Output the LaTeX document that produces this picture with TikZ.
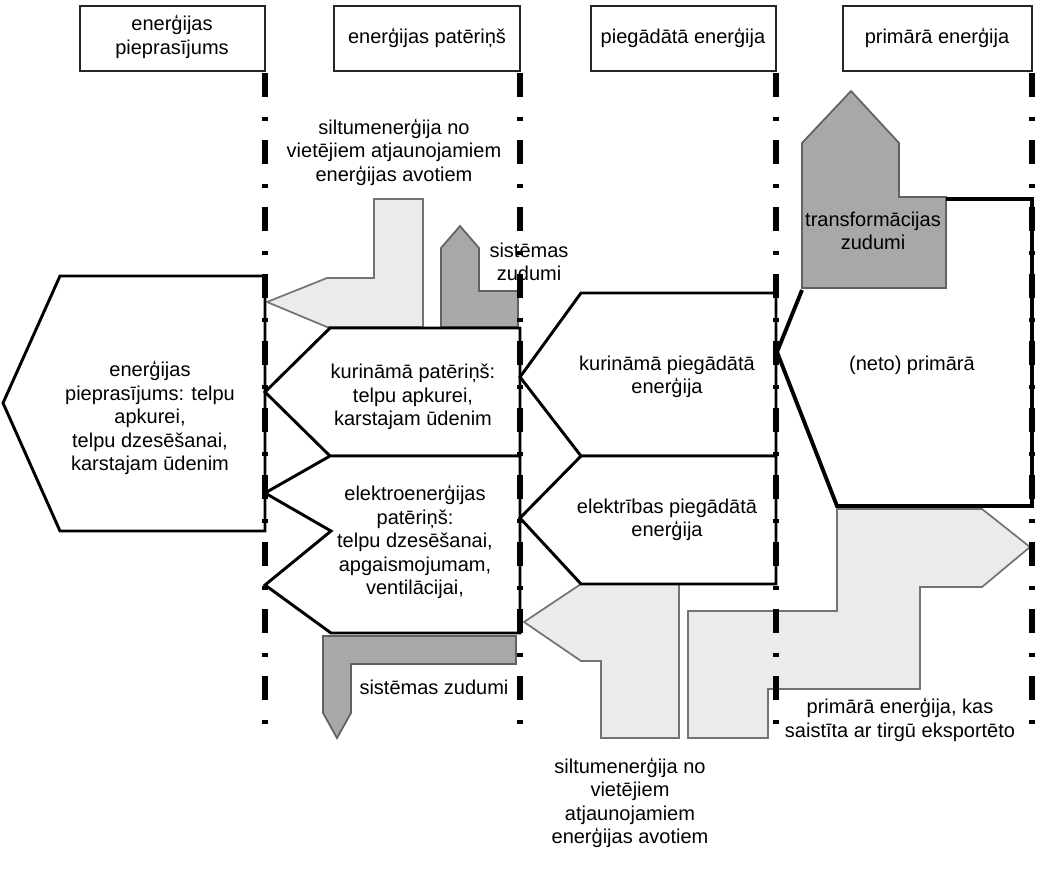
\documentclass[tikz,border=0pt]{standalone}
\usepackage{fontspec}
\setmainfont{Liberation Sans}
\begin{document}
\begin{tikzpicture}[x=0.75pt,y=-0.75pt,
  blk/.style={draw=black, line width=2.2pt, line join=miter, fill=white},
  blkline/.style={draw=black, line width=2.9pt, line join=miter},
  lgt/.style={draw=black!55, line width=1.3pt, fill=black!8},
  drk/.style={draw=black!62, line width=1.3pt, fill=black!34},
  hdr/.style={draw=black!85, line width=1.1pt},
  lbl/.style={font=\fontsize{15}{17.6}\selectfont, align=center, inner sep=0pt},
  sep/.style={line width=4pt, dash pattern=on 18pt off 15pt on 3pt off 14.25pt}]
\useasboundingbox (0,0) rectangle (1060,876);

% header boxes
\draw[hdr] (80,6) rectangle (265,71);
\draw[hdr] (334,6) rectangle (520,71);
\draw[hdr] (591,6) rectangle (776,71);
\draw[hdr] (843,6) rectangle (1032,71);
\node[lbl] (h1) at (172,37) {enerģijas\\pieprasījums};
\node[lbl] (h2) at (427,38) {enerģijas patēriņš};
\node[lbl] (h3) at (683,38) {piegādātā enerģija};
\node[lbl] (h4) at (937,38) {primārā enerģija};

% gray flows
\draw[lgt] (267,302) -- (327,278) -- (374,278) -- (374,199) -- (423,199) -- (423,327) -- (327,327) -- cycle;
\draw[drk] (441,327) -- (441,248) -- (460,226) -- (479,248) -- (479,291) -- (518,291) -- (518,327) -- cycle;
\draw[drk] (323,636) -- (516,636) -- (516,664) -- (351,664) -- (351,713) -- (337,738) -- (323,713) -- cycle;
\draw[lgt] (524,622) -- (581,584) -- (679,584) -- (679,738) -- (601,738) -- (601,661) -- (581,661) -- cycle;
\draw[drk] (802,288) -- (802,143) -- (851,91) -- (899,143) -- (899,197) -- (946,197) -- (946,288) -- cycle;
\draw[lgt] (837,509) -- (982,509) -- (1030,547) -- (982,587) -- (920,587) -- (920,689) -- (768,689) -- (768,738) -- (688,738) -- (688,611) -- (837,611) -- cycle;

% black flows
\draw[blk] (265,276) -- (60,276) -- (3,403) -- (60,531) -- (265,531) -- cycle;
\draw[blk] (520,328) -- (330,328) -- (265,392) -- (330,456) -- (520,456) -- cycle;
\draw[blk] (520,456) -- (330,456) -- (265,493) -- (331,531) -- (265,585) -- (331,633) -- (520,633) -- cycle;
\draw[blk] (776,293) -- (581,293) -- (520,377) -- (581,456) -- (776,456) -- cycle;
\draw[blk] (776,456) -- (581,456) -- (520,518) -- (581,584) -- (776,584) -- cycle;
\draw[blkline] (946,199) -- (1032,199) -- (1032,506) -- (837,506) -- (777,352) -- (802,290);

% separators
\foreach \x/\n in {265/s1,520/s2,776/s3,1032/s4}{
  \coordinate (\n a) at (\x,73);
  \coordinate (\n b) at (\x,724);
  \draw[sep] (\n a) -- (\n b);
}

% labels
\node[lbl] (dem) at (150,418) {enerģijas\\pieprasījums: telpu\\apkurei,\\telpu dzesēšanai,\\karstajam ūdenim};
\node[lbl] (siltA) at (394,152) {siltumenerģija no\\vietējiem atjaunojamiem\\enerģijas avotiem};
\node[lbl] (sisA) at (529,262) {sistēmas\\zudumi};
\node[lbl] (kurP) at (413,397) {kurināmā patēriņš:\\telpu apkurei,\\karstajam ūdenim};
\node[lbl] (elP) at (415,542) {elektroenerģijas\\patēriņš:\\telpu dzesēšanai,\\apgaismojumam,\\ventilācijai,};
\node[lbl] (sisB) at (434,687) {sistēmas zudumi};
\node[lbl] (kurG) at (667,377) {kurināmā piegādātā\\enerģija};
\node[lbl] (elG) at (667,520) {elektrības piegādātā\\enerģija};
\node[lbl] (siltB) at (630,803) {siltumenerģija no\\vietējiem\\atjaunojamiem\\enerģijas avotiem};
\node[lbl] (trans) at (873,231) {transformācijas\\zudumi};
\node[lbl] (neto) at (912,365) {(neto) primārā};
\node[lbl] (exp) at (900,720) {primārā enerģija, kas\\saistīta ar tirgū eksportēto};
\end{tikzpicture}
\end{document}
